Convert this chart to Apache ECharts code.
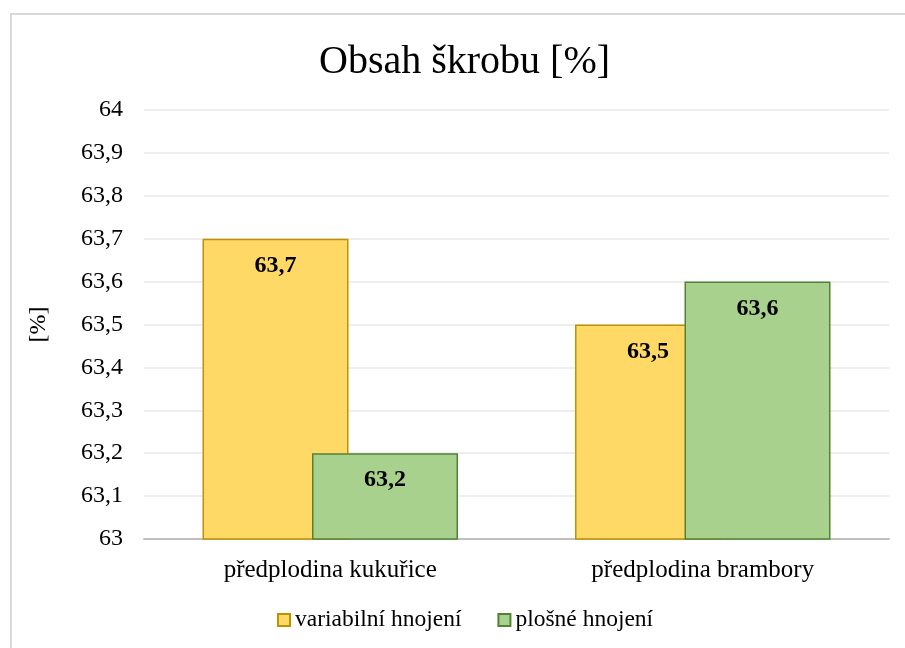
<!DOCTYPE html>
<html>
<head>
<meta charset="utf-8">
<script src="https://cdn.jsdelivr.net/npm/echarts@6/dist/echarts.min.js"></script>
<style>
  html, body { margin: 0; padding: 0; background: #fff; }
  #chart { width: 905px; height: 648px; }
</style>
</head>
<body>
<div id="chart"></div>
<script>
var categories = ['předplodina kukuřice', 'předplodina brambory']
var seriesNames = ['variabilní hnojení', 'plošné hnojení']
var variabilni = [63.7, 63.5]
var plosne = [63.2, 63.6]

var serif = '"Liberation Serif", "DejaVu Serif", serif'
var fmt = function (v) { return String(v).replace('.', ',') }

var chart = echarts.init(document.getElementById('chart'), null, { renderer: 'canvas' })

var barLabel = {
    show: true,
    position: 'insideTop',
    distance: 15,
    fontFamily: serif,
    fontSize: 24,
    fontWeight: 'bold',
    color: '#000',
    formatter: function (p) { return fmt(p.value) }
}

chart.setOption({
    animation: false,
    graphic: [{
        type: 'rect',
        shape: { x: 11, y: 14, width: 910, height: 650 },
        style: { fill: 'none', stroke: '#d9d9d9', lineWidth: 2 },
        silent: true
    }],
    title: {
        text: 'Obsah škrobu [%]',
        left: 314,
        top: 37,
        textStyle: { fontFamily: serif, fontSize: 40, fontWeight: 'normal', color: '#000' }
    },
    legend: {
        bottom: 11,
        left: 272,
        itemWidth: 12,
        itemHeight: 12,
        itemGap: 36,
        icon: 'rect',
        textStyle: { fontFamily: serif, fontSize: 23.5, color: '#000' },
        data: seriesNames
    },
    grid: { left: 144, right: 16, top: 110, bottom: 109, containLabel: false },
    xAxis: {
        type: 'category',
        data: categories,
        axisLine: { lineStyle: { color: '#bfbfbf', width: 2 } },
        axisTick: { show: false },
        axisLabel: { fontFamily: serif, fontSize: 25, color: '#000', margin: 19 }
    },
    yAxis: {
        type: 'value',
        min: 63,
        max: 64,
        interval: 0.1,
        name: '[%]',
        nameLocation: 'middle',
        nameRotate: 90,
        nameGap: 93,
        nameTextStyle: { fontFamily: serif, fontSize: 24, color: '#000' },
        axisLine: { show: false },
        axisTick: { show: false },
        splitLine: { lineStyle: { color: '#eeeeee', width: 2 } },
        axisLabel: {
            fontFamily: serif, fontSize: 24, color: '#000', margin: 21,
            formatter: function (v) { return fmt(Math.round(v * 10) / 10) }
        }
    },
    series: [
        {
            name: seriesNames[0],
            type: 'bar',
            data: variabilni,
            barWidth: 146,
            barGap: '-25%',
            itemStyle: { color: '#FFD966', borderColor: '#BF9000', borderWidth: 1.5 },
            label: barLabel
        },
        {
            name: seriesNames[1],
            type: 'bar',
            data: plosne,
            barWidth: 146,
            barGap: '-25%',
            itemStyle: { color: '#A9D18E', borderColor: '#548235', borderWidth: 1.5 },
            label: barLabel
        }
    ]
})
</script>
</body>
</html>
